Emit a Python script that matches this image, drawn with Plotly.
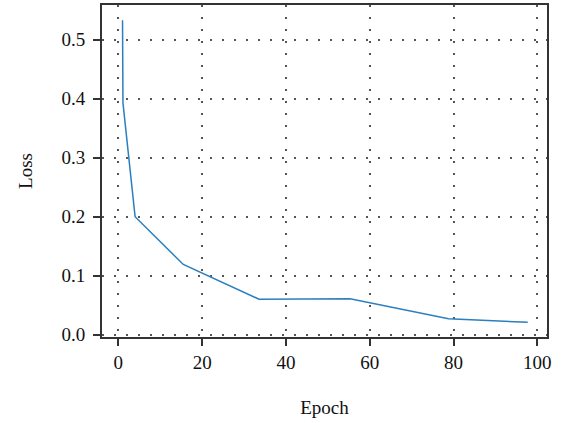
import plotly.graph_objects as go

epochs = [1, 1.1, 4, 15.5, 33.6, 55.3, 78.8, 97.7]
loss = [0.533, 0.393, 0.200, 0.119, 0.060, 0.061, 0.027, 0.021]

x_ticks = [0, 20, 40, 60, 80, 100]
y_ticks = [0.0, 0.1, 0.2, 0.3, 0.4, 0.5]

FONT = "Liberation Serif"

fig = go.Figure()
fig.add_trace(go.Scatter(x=epochs, y=loss, mode="lines",
                         line=dict(color="#2c7fbf", width=1.5),
                         showlegend=False))

axis_common = dict(
    showline=True, linecolor="#333333", linewidth=2, mirror=True,
    ticks="outside", ticklen=7, tickwidth=2, tickcolor="#333333",
    showgrid=True, gridcolor="#555555", gridwidth=1.5, griddash="2px,10px",
    zeroline=False, automargin=False,
    tickfont=dict(family=FONT, size=19, color="#111111"),
)

fig.update_xaxes(range=[-3.9, 102.3], tickvals=x_ticks,
                 title=dict(text="Epoch", font=dict(family=FONT, size=19, color="#111111"), standoff=29),
                 ticklabelstandoff=0,
                 **axis_common)
fig.update_yaxes(range=[-0.004, 0.559], tickvals=y_ticks, tickformat=".1f",
                 title=dict(text="Loss", font=dict(family=FONT, size=19, color="#111111"), standoff=24),
                 ticklabelstandoff=4,
                 **axis_common)

fig.update_layout(width=561, height=423,
                  margin=dict(l=102, r=14, t=5, b=86),
                  paper_bgcolor="white", plot_bgcolor="white",
                  font=dict(family=FONT))

fig.write_html("out.html", config={"displayModeBar": False},
               post_script="document.body.style.margin='0px';document.body.style.padding='0px';")
